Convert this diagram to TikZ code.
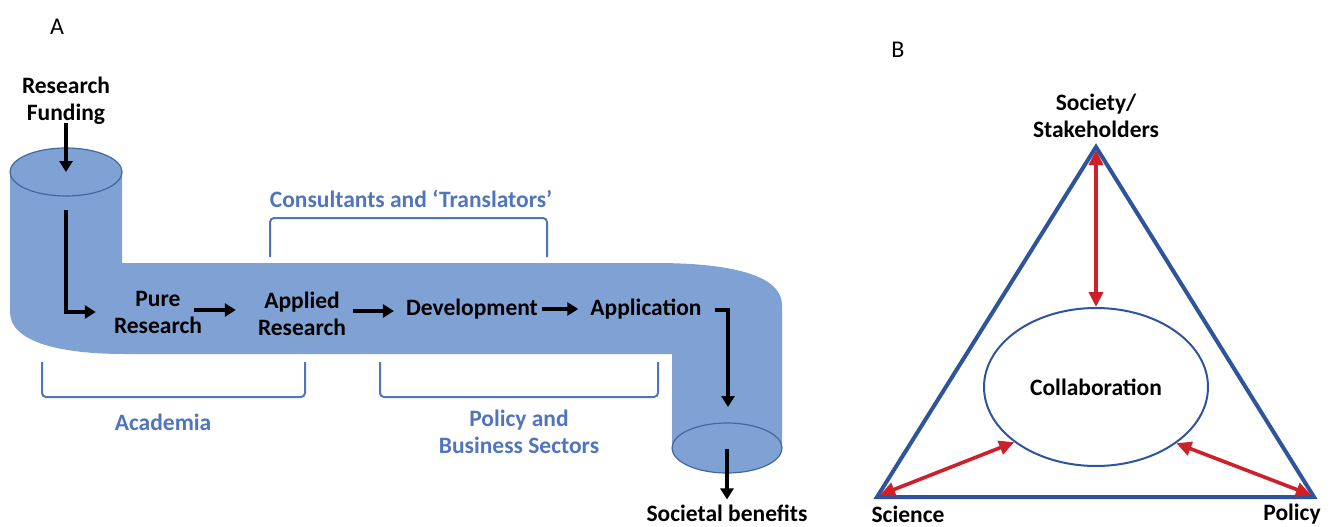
\documentclass[tikz,border=0pt]{standalone}
\usepackage{fontspec}
\setmainfont{Carlito}
\usetikzlibrary{arrows.meta,shapes.geometric}
\definecolor{pipefill}{RGB}{127,161,212}
\definecolor{pipeline}{RGB}{65,105,160}
\definecolor{brblue}{RGB}{80,116,190}
\definecolor{triblue}{RGB}{46,84,155}
\definecolor{redarr}{RGB}{205,32,42}
\begin{document}
\begin{tikzpicture}[x=1pt,y=-1pt,
  lbl/.style={font=\fontsize{23.5}{27}\selectfont\bfseries, align=center, inner sep=0pt},
  bluelbl/.style={lbl, text=brblue},
  panel/.style={font=\fontsize{24}{30}\selectfont, inner sep=0pt},
  blk/.style={line width=3.2pt, -{Triangle[length=11pt,width=13pt]}},
  bracket/.style={draw=brblue, line width=2pt, rounded corners=4pt},
  redline/.style={draw=redarr, line width=3.6pt, {Triangle[length=15pt,width=14pt]}-{Triangle[length=15pt,width=14pt]}},
  cylend/.style={draw=pipeline, line width=1.2pt, fill=pipefill}
]
\useasboundingbox (0,0) rectangle (1330,527);

% ---------- Panel A ----------
\node[panel] (labA) at (57,27) {A};

% pipe body
\fill[pipefill] (10,172) -- (10,312) .. controls (10,342) and (60,354) .. (125,354)
  -- (672,354) -- (672,448) -- (782,448) -- (782,305)
  .. controls (782,278) and (740,263) .. (655,263)
  -- (122,263) -- (122,172) -- cycle;
\draw[cylend] (66,172) ellipse [x radius=56, y radius=24];
\draw[cylend] (727,448) ellipse [x radius=55, y radius=25];

% brackets
\draw[bracket] (270,257) -- (270,218) -- (547,218) -- (547,257);
\draw[bracket] (42,362) -- (42,397) -- (305,397) -- (305,362);
\draw[bracket] (380,362) -- (380,397) -- (658,397) -- (658,362);

\node[bluelbl] (consult) at (411,199) {Consultants and ‘Translators’};
\node[bluelbl] (acad) at (163,422) {Academia};
\node[bluelbl] (polbus) at (519,432) {Policy and\\Business Sectors};

% text nodes
\node[lbl] (funding) at (66,101) {Research\\Funding};
\node[lbl] (pure) at (158,312) {Pure\\Research};
\node[lbl] (applied) at (302,314) {Applied\\Research};
\node[lbl] (dev) at (472,309) {Development};
\node[lbl] (app) at (646,309) {Application};
\node[lbl] (benefits) at (727,513) {Societal benefits};

\coordinate (topc) at (66,172);
\coordinate (downstart) at (66,210);
\coordinate (dropend) at (728,407);
\coordinate (botc) at (727,449);

% black arrows
\draw[blk] ([yshift=2]funding.south) -- (topc);
\draw[blk] (downstart) |- ([xshift=-18]pure.west);
\draw[blk] ([xshift=-8,yshift=2]pure.east) -- ([xshift=-22,yshift=2]pure.east -| applied.west);
\draw[blk] ([xshift=7,yshift=3]applied.east) -- ([xshift=-12,yshift=3]applied.east -| dev.west);
\draw[blk] ([xshift=4]dev.east) -- ([xshift=-12]app.west);
\draw[blk] ([xshift=13,yshift=-1]app.east) -| (dropend);
\draw[blk] (botc) -- ([yshift=5]benefits.north);

% ---------- Panel B ----------
\node[panel] (labB) at (898,50) {B};

\coordinate (apex) at (1096,147);
\coordinate (bl) at (877,497);
\coordinate (br) at (1314,497);
\draw[triblue, line width=4pt, line join=miter] (apex) -- (br) -- (bl) -- cycle;

\node[ellipse, draw=triblue, line width=2pt, minimum width=224pt, minimum height=158pt, inner sep=0pt,
      font=\fontsize{23.5}{27}\selectfont\bfseries] (collab) at (1096,387) {Collaboration};

\node[lbl] (soc) at (1096,116) {Society/\\Stakeholders};
\node[lbl] (sci) at (908,514) {Science};
\node[lbl] (pol) at (1292,514) {Policy};

\coordinate (apexin) at (1096,150);
\coordinate (blin) at (880,495);
\coordinate (brin) at (1311,495);
\draw[redline] (apexin) -- (collab.north);
\draw[redline] (blin) -- (collab.214);
\draw[redline] (brin) -- (collab.-35);
\end{tikzpicture}
\end{document}
